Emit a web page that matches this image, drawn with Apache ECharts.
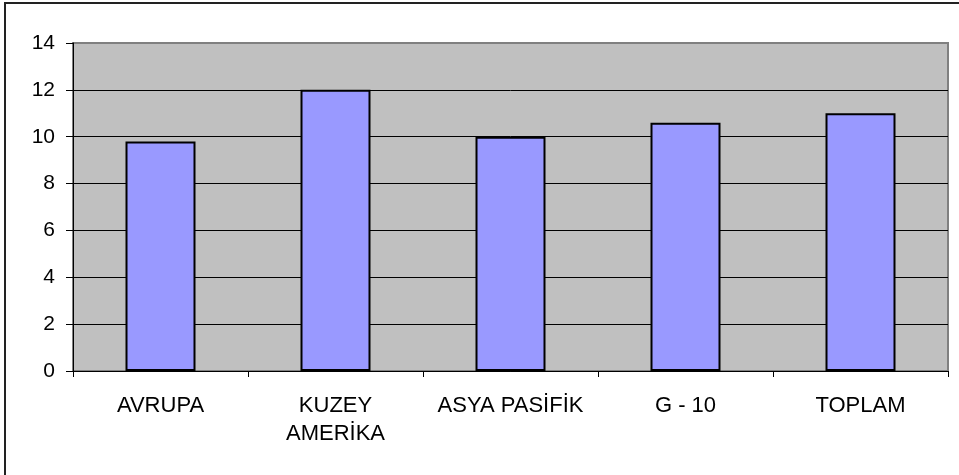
<!DOCTYPE html>
<html>
<head>
<meta charset="utf-8">
<script src="https://cdn.jsdelivr.net/npm/echarts@6/dist/echarts.min.js"></script>
<style>
  html, body { margin: 0; padding: 0; background: #fff; }
  #chart { width: 959px; height: 475px; }
</style>
</head>
<body>
<div id="chart"></div>
<script>
// Regional values
const categories = ['AVRUPA', 'KUZEY\nAMERİKA', 'ASYA PASİFİK', 'G - 10', 'TOPLAM'];
const values = [9.8, 12, 10, 10.6, 11];
const yTicks = [0, 2, 4, 6, 8, 10, 12, 14];

const chart = echarts.init(document.getElementById('chart'), null, { renderer: 'canvas' });

const labelFont = {
  fontFamily: '"Liberation Sans", Arial, sans-serif',
  color: '#000'
};

// Black gridlines, with the top one matching the grey plot frame
const gridColors = yTicks.map((t, i) => (i === yTicks.length - 1 ? '#808080' : '#000'));

chart.setOption({
  animation: false,
  backgroundColor: '#fff',
  graphic: [{
    type: 'rect',
    shape: { x: 5, y: 3, width: 1200, height: 1200 },
    style: { fill: 'none', stroke: '#222', lineWidth: 2 },
    silent: true,
    z: 100
  }],
  grid: {
    left: 73, right: 11, top: 43, bottom: 104,
    show: true,
    backgroundColor: '#C0C0C0',
    borderColor: '#808080',
    borderWidth: 2
  },
  xAxis: {
    type: 'category',
    data: categories,
    axisLine: { show: true, lineStyle: { color: '#000', width: 1 } },
    axisTick: { show: true, alignWithLabel: false, length: 6, lineStyle: { color: '#000' } },
    axisLabel: Object.assign({ fontSize: 22, lineHeight: 28, margin: 21, interval: 0 }, labelFont)
  },
  yAxis: {
    type: 'value',
    min: yTicks[0],
    max: yTicks[yTicks.length - 1],
    interval: yTicks[1] - yTicks[0],
    axisLine: { show: true, lineStyle: { color: '#000', width: 1 } },
    axisTick: { show: true, length: 7, lineStyle: { color: '#000' } },
    axisLabel: Object.assign({ fontSize: 21, margin: 18 }, labelFont),
    splitLine: {
      show: true,
      lineStyle: { color: gridColors, width: 1 }
    }
  },
  series: [{
    type: 'bar',
    data: values,
    barCategoryGap: '60%',
    itemStyle: {
      color: '#9999FF',
      borderColor: '#000',
      borderWidth: 2
    }
  }]
});
</script>
</body>
</html>
